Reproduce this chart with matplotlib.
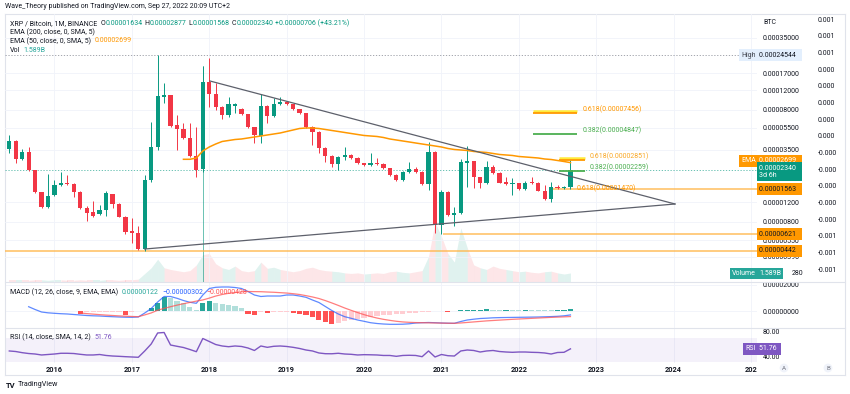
import matplotlib
matplotlib.use("Agg")
import matplotlib.pyplot as plt
import matplotlib.transforms as mtransforms
from matplotlib.lines import Line2D
from matplotlib.ticker import FixedLocator, FuncFormatter, NullLocator

plt.rcParams['font.family'] = ['Roboto', 'DejaVu Sans']

# ---------------- data (prices in satoshi = 1e-8 BTC), monthly from Jun 2015 ----------------
opens = [3550, 4240, 2890, 3380, 2320, 1466, 1091, 1386, 1704, 1786,
         1739, 1484, 1056, 972, 933, 1019, 1416, 1153, 887, 662,
         639, 457, 1889, 3744, 10470, 10830, 5816, 5388, 4451, 3093,
         2353, 14250, 11067, 8522, 7143, 8700, 8080, 7290, 5580, 4666,
         8697, 7083, 8954, 9388, 8954, 8130, 7442, 5580, 5099, 3624,
         3093, 2624, 3048, 3158, 2950, 2662, 2554, 2662, 2640, 2403,
         2093, 1889, 2240, 2353, 2213, 1729, 3338, 749, 1484, 918,
         952, 2694, 2790, 1997, 1764, 2482, 2168, 1801, 1729, 1764,
         1570, 1801, 1764, 1515, 1278, 1646, 1592, 1634]
highs = [4760, 4300, 3590, 3700, 2340, 1480, 2137, 1889, 2240, 2093,
         1760, 1500, 1107, 1226, 1129, 1515, 1430, 1165, 895, 859,
         734, 2081, 6260, 24544, 13960, 10900, 7186, 6060, 6060, 5600,
         19680, 23060, 13874, 8600, 10467, 9100, 8300, 7400, 5650, 11002,
         8800, 10254, 10340, 9500, 9050, 8200, 7500, 5700, 5200, 3700,
         3150, 3100, 3744, 3250, 3000, 2700, 3310, 2950, 2694, 2430,
         2120, 2280, 2750, 2482, 2260, 4149, 3400, 1550, 1500, 1077,
         2890, 3799, 2800, 2010, 2808, 2569, 2240, 1997, 1980, 1786,
         1850, 2022, 1800, 1693, 1801, 1693, 1680, 2877]
lows = [3310, 2660, 2850, 2290, 1436, 1070, 1070, 1360, 1680, 1700,
        1339, 1034, 817, 887, 920, 901, 1056, 880, 622, 520,
        450, 442, 1810, 3500, 9140, 5600, 3500, 4400, 3000, 2022,
        2230, 8522, 7960, 6580, 6900, 7487, 7200, 5500, 4016, 4016,
        6060, 6900, 8800, 8800, 8000, 7300, 5500, 3878, 3270, 2750,
        2470, 2320, 2850, 2900, 2620, 2520, 2520, 2580, 2380, 2060,
        1850, 1860, 2200, 2180, 1700, 1538, 633, 621, 900, 734,
        940, 1646, 1592, 1592, 1740, 2140, 1760, 1720, 1386, 1550,
        1550, 1740, 1500, 1260, 1209, 1570, 1560, 1568]
closes = [4240, 2930, 3380, 2320, 1466, 1091, 1367, 1704, 1786, 1729,
          1484, 1056, 952, 901, 1019, 1436, 1153, 887, 652, 639,
          457, 1889, 3744, 10620, 10830, 5731, 5388, 4451, 3093, 2320,
          14250, 11067, 8522, 7143, 8954, 8954, 7290, 5580, 4763, 8697,
          7083, 9010, 9388, 8954, 8130, 7442, 5580, 5099, 3624, 3093,
          2624, 3048, 3158, 2950, 2662, 2554, 2662, 2609, 2432, 2093,
          1889, 2240, 2353, 2213, 1729, 3338, 749, 1484, 918, 952,
          2750, 2790, 1997, 1764, 2482, 2168, 1786, 1739, 1764, 1570,
          1764, 1764, 1515, 1278, 1646, 1592, 1634, 2340]
volume_b = [0.3, 0.3, 0.3, 0.3, 0.4, 0.4, 0.3, 0.4, 0.4, 0.3,
            0.3, 0.4, 0.3, 0.3, 0.3, 0.4, 0.4, 0.3, 0.4, 0.4,
            0.5, 1.5, 2.5, 4.0, 2.5, 2.2, 2.0, 1.8, 2.0, 3.0,
            4.8, 5.0, 3.2, 2.5, 2.2, 2.8, 2.0, 1.8, 2.0, 3.5,
            2.4, 2.6, 2.2, 2.0, 1.8, 2.0, 2.4, 2.6, 2.2, 2.0,
            1.9, 1.8, 1.6, 1.5, 1.6, 1.4, 1.5, 1.6, 1.5, 1.8,
            1.9, 1.7, 1.6, 1.8, 2.0, 4.5, 10.5, 8.0, 5.0, 3.5,
            9.5, 6.0, 3.0, 2.5, 2.2, 2.8, 2.4, 2.2, 2.0, 1.8,
            1.9, 1.7, 1.6, 1.8, 1.9, 1.6, 1.4, 1.589]
ema50_first = 27
ema50 = [2890, 2890, 2968, 3429, 3722, 3958, 4168, 4254, 4342, 4387,
         4478, 4572, 4667, 4763, 4862, 4963, 5120, 5279, 5444, 5500,
         5500, 5444, 5333, 5225, 5120, 5015, 4912, 4812, 4715, 4667,
         4620, 4525, 4387, 4298, 4211, 4126, 4040, 3958, 3878, 3799,
         3722, 3609, 3536, 3500, 3464, 3394, 3359, 3325, 3257, 3191,
         3158, 3126, 3062, 3031, 3000, 2968, 2908, 2878, 2820, 2762,
         2699]
rsi14 = [48.3, 47.4, 45.5, 44.1, 43.3, 41.7, 42.5, 43.3, 44.5, 44.5,
         44.1, 42.8, 41.7, 41.7, 42.5, 40.9, 40.0, 39.5, 38.9, 38.4,
         37.9, 48.3, 59.8, 77.9, 78.7, 58.1, 56.0, 54.0, 50.7, 47.1,
         68.8, 63.9, 58.9, 56.5, 55.3, 56.5, 55.7, 53.2, 49.1, 56.5,
         54.3, 56.0, 56.5, 55.7, 54.3, 52.4, 49.9, 48.3, 45.0, 43.8,
         43.7, 44.5, 43.3, 42.8, 41.7, 42.2, 42.0, 41.7, 40.9, 40.9,
         39.5, 40.9, 41.2, 40.9, 38.9, 48.3, 38.4, 42.5, 40.5, 40.0,
         48.3, 49.9, 49.1, 46.6, 48.3, 49.1, 47.4, 46.6, 46.1, 46.6,
         46.6, 46.1, 45.8, 45.0, 43.3, 45.8, 46.1, 51.76]
macd_first = 3
macd_line = [330, 115, -77, -140, -177, -208, -230, -270, -307, -346,
             -370, -385, -415, -438, -461, -477, -485, -461, -154, 192,
             692, 1115, 1115, 977, 807, 669, 592, 1230, 1730, 1823,
             1846, 1846, 1807, 1730, 1500, 1230, 1115, 1153, 1153, 1153,
             1230, 1230, 1153, 1053, 846, 654, 346, 38, -230, -438,
             -561, -692, -792, -900, -961, -1000, -1023, -1023, -1015, -984,
             -923, -900, -884, -900, -923, -938, -946, -807, -692, -630,
             -577, -554, -523, -508, -500, -492, -485, -477, -469, -461,
             -446, -430, -408, -370, -302]
signal_first = 11
signal_line = [-150, -200, -240, -280, -315, -345, -375, -400, -420, -438,
               -300, -150, 60, 200, 330, 450, 560, 660, 760, 850,
               990, 1150, 1270, 1360, 1420, 1480, 1500, 1490, 1484, 1460,
               1440, 1410, 1380, 1330, 1270, 1180, 1080, 960, 800, 620,
               430, 230, 50, -120, -280, -420, -540, -640, -720, -790,
               -840, -870, -890, -900, -910, -920, -930, -940, -945, -920,
               -880, -840, -800, -760, -730, -700, -670, -640, -615, -590,
               -565, -540, -515, -490, -470, -450, -428]
hist_first = 11
macd_hist = [-250, -110, -100, -95, -90, -80, -70, -300, -60, -20,
             30, 210, 640, 1100, 977, 790, 592, 330, 77, 640,
             790, 592, 538, 460, 384, 200, -230, -307, -100, -180,
             -80, -60, -50, -150, -230, -300, -450, -680, -840, -1000,
             -920, -800, -690, -610, -540, -470, -400, -340, -290, -250,
             -200, -160, -120, -80, -40, -20, -30, -40, -20, 60,
             80, 90, 100, 120, 110, 100, 110, 100, 90, 100,
             90, 80, 70, 60, 70, 90, 122]

year_tick_idx = [7, 19, 31, 43, 55, 67, 79, 91, 103, 115]
year_labels = ['2016', '2017', '2018', '2019', '2020', '2021', '2022', '2023', '2024', '202']
price_ticks = [35000, 17000, 12000, 8000, 5500, 3500, 1200, 800, 550, 390]
overlay_ticks = [0.00075, 0.00065, 0.00055, 0.00045, 0.00035, 0.00025, 0.00015, 0.00005,
                 -0.00005, -0.00015, -0.00025, -0.00035, -0.00045, -0.00055, -0.00065, -0.00075]
macd_ticks = [2000, 0]
rsi_ticks = [80, 40]

upper_trend = [(31.1, 14455), (103.2, 1153)]
lower_trend = [(21.0, 457), (103.2, 1153)]
vline_idx = 30
vline_top = 19680
high_price = 24544
last_price = 2340
ema_last = 2699
hlines_orange = [(442, -0.7), (621, 67.2), (1563, 84.3)]
fib_lines = [(7800, 81.2, 88.0, '#ffeb3b', 1.8), (7456, 81.2, 88.0, '#ff9800', 1.3),
             (4847, 81.2, 88.0, '#4caf50', 1.3),
             (2950, 85.2, 89.3, '#ffeb3b', 1.8), (2851, 85.2, 89.3, '#ff9800', 1.3),
             (2259, 85.2, 89.3, '#4caf50', 1.3)]
fib_labels = [(7456, 88.9, '0.618(0.00007456)', '#ff9800'),
              (4847, 88.9, '0.382(0.00004847)', '#4caf50'),
              (2851, 89.9, '0.618(0.00002851)', '#f9a825'),
              (2259, 89.9, '0.382(0.00002259)', '#4caf50'),
              (1470, 88.0, '0.618(0.00001470)', '#ff9800')]

# ---------------- styling ----------------
UP, DN = '#089981', '#f23645'
DARK = '#131722'
GRID = '#f0f3fa'
BORDER = '#e0e3eb'
W, H = 850, 394
FS = 5.0


def fx(px):
    return px / W


def fy(py):
    return 1 - py / H


fig = plt.figure(figsize=(8.5, 3.94), dpi=100)
fig.patch.set_facecolor('white')

L, R = 5, 757
ax = fig.add_axes([fx(L), fy(282), fx(R - L), (282 - 14) / H])
ax_m = fig.add_axes([fx(L), fy(328), fx(R - L), (328 - 282) / H], sharex=ax)
ax_r = fig.add_axes([fx(L), fy(363), fx(R - L), (363 - 328) / H], sharex=ax)
ax_v = ax.twinx()
ax_o = ax.twinx()
ax_v.set_zorder(1)
ax_o.set_zorder(1.5)
ax.set_zorder(2)
ax.patch.set_visible(False)

n = len(opens)
xs = list(range(n))
cols = [UP if closes[i] >= opens[i] else DN for i in range(n)]

# ---------- main price pane ----------
ax.set_yscale('log')
ax.set_ylim(232, 57280)
ax.set_xlim(-0.667, 115.92)
bottoms = [min(opens[i], closes[i]) for i in range(n)]
heights = [max(abs(closes[i] - opens[i]), bottoms[i] * 0.008) for i in range(n)]
ax.vlines(xs, lows, highs, colors=cols, lw=0.7, zorder=3)
ax.bar(xs, heights, bottom=bottoms, width=0.66, color=cols, linewidth=0, zorder=4)
ax.plot(range(ema50_first, ema50_first + len(ema50)), ema50, color='#ff9800', lw=1.1, zorder=5)

ax.plot([p[0] for p in upper_trend], [p[1] for p in upper_trend], color='#5d606b', lw=0.9, zorder=6)
ax.plot([p[0] for p in lower_trend], [p[1] for p in lower_trend], color='#5d606b', lw=0.9, zorder=6)
ax.vlines([vline_idx], 232, vline_top, colors=UP, lw=0.6, alpha=0.7, zorder=2)

ax.axhline(high_price, color='#9598a1', lw=0.6, ls=(0, (1.5, 2)), zorder=2)
ax.axhline(last_price, color=UP, lw=0.6, ls=(0, (1.5, 2)), alpha=0.7, zorder=2)
for price, x0 in hlines_orange:
    ax.hlines(price, x0, 115.92, color='#ffb74d', lw=1.1, alpha=0.9, zorder=2)
for price, x0, x1, c, lw in fib_lines:
    ax.hlines(price, x0, x1, color=c, lw=lw, zorder=5)
for price, x0, txt, c in fib_labels:
    ax.text(x0, price, txt, color=c, fontsize=FS, ha='left', va='bottom', zorder=7)

ax.yaxis.tick_right()
ax.yaxis.set_major_locator(FixedLocator(price_ticks))
ax.yaxis.set_minor_locator(NullLocator())
ax.yaxis.set_major_formatter(FuncFormatter(lambda v, p: f"{v / 1e8:.8f}"))
ax.tick_params(axis='y', length=0, pad=4.3, labelsize=FS, labelcolor=DARK)
ax.tick_params(axis='x', length=0, labelbottom=False)
ax.grid(True, axis='both', color=GRID, lw=0.6, zorder=0)
ax.set_axisbelow(True)
for s in ax.spines.values():
    s.set_visible(False)

# volume overlay
ax_v.set_ylim(0, 47)
for i in range(1, n):
    ax_v.fill_between([i - 1, i], [0, 0], [volume_b[i - 1], volume_b[i]],
                      color=cols[i], alpha=0.12, lw=0)
ax_v.axis('off')

# secondary overlay scale labels
ax_o.set_ylim(-0.000828, 0.00078)
ax_o.yaxis.set_major_locator(FixedLocator(overlay_ticks))
ax_o.yaxis.set_major_formatter(FuncFormatter(lambda v, p: f"{v:.3f}"))
ax_o.tick_params(axis='y', length=0, pad=43.5, labelsize=FS, labelcolor=DARK)
for s in ax_o.spines.values():
    s.set_visible(False)

# ---------- MACD pane ----------
ax_m.set_ylim(-1307, 2230)
hx = list(range(hist_first, hist_first + len(macd_hist)))
hcols = []
prev = 0
for h in macd_hist:
    if h >= 0:
        hcols.append('#26a69a' if h > prev else '#b2dfdb')
    else:
        hcols.append('#ff5252' if h < prev else '#ffcdd2')
    prev = h
ax_m.bar(hx, macd_hist, width=0.8, color=hcols, linewidth=0, zorder=2)
ax_m.plot(range(macd_first, macd_first + len(macd_line)), macd_line, color='#2962ff', lw=0.9, alpha=0.75, zorder=3)
ax_m.plot(range(signal_first, signal_first + len(signal_line)), signal_line, color='#ff5252', lw=0.9, alpha=0.75, zorder=3)
ax_m.yaxis.tick_right()
ax_m.yaxis.set_major_locator(FixedLocator(macd_ticks))
ax_m.yaxis.set_major_formatter(FuncFormatter(lambda v, p: f"{v / 1e8:.8f}"))
ax_m.tick_params(axis='y', length=0, pad=4.3, labelsize=FS, labelcolor=DARK)
ax_m.tick_params(axis='x', length=0, labelbottom=False)
ax_m.grid(True, axis='both', color=GRID, lw=0.6, zorder=0)
ax_m.set_axisbelow(True)
for s in ax_m.spines.values():
    s.set_visible(False)

# ---------- RSI pane ----------
ax_r.set_ylim(28.5, 86.1)
ax_r.axhspan(30, 70, color='#7e57c2', alpha=0.08, lw=0, zorder=1)
ax_r.plot(xs, rsi14, color='#7e57c2', lw=1.0, zorder=3)
ax_r.yaxis.tick_right()
ax_r.yaxis.set_major_locator(FixedLocator(rsi_ticks))
ax_r.yaxis.set_major_formatter(FuncFormatter(lambda v, p: f"{v:.2f}"))
ax_r.tick_params(axis='y', length=0, pad=4.3, labelsize=FS, labelcolor=DARK)
ax_r.set_xticks(year_tick_idx)
ax_r.set_xticklabels(year_labels)
ax_r.tick_params(axis='x', length=0, pad=2.5, labelsize=5.3, labelcolor=DARK)
for lab in ax_r.get_xticklabels():
    lab.set_fontweight('bold')
ax_r.grid(True, axis='x', color=GRID, lw=0.6, zorder=0)
ax_r.set_axisbelow(True)
for s in ax_r.spines.values():
    s.set_visible(False)
ax_r.set_xlim(-0.667, 115.92)

# ---------- borders ----------
for (x0, y0, x1, y1) in [(5, 14, 845, 14), (5, 282, 845, 282), (5, 328, 845, 328),
                         (5, 375, 845, 375), (5, 14, 5, 375), (845, 14, 845, 375)]:
    fig.add_artist(Line2D([fx(x0), fx(x1)], [fy(y0), fy(y1)], color=BORDER, lw=0.8))

# ---------- badges ----------
tr = mtransforms.blended_transform_factory(fig.transFigure, ax.transData)
trr = mtransforms.blended_transform_factory(fig.transFigure, ax_r.transData)


def badge(x_px, yv, txt, fc, tc, ha='left', transform=tr, target=ax):
    target.text(fx(x_px), yv, txt, fontsize=FS, color=tc, ha=ha, va='center', transform=transform,
                bbox=dict(boxstyle='square,pad=0.35', fc=fc, ec='none'), zorder=20, clip_on=False,
                linespacing=1.1)


badge(756, high_price, 'High', '#e3effd', '#434651', ha='right')
badge(759, high_price, '0.00024544  ', '#e3effd', DARK)
badge(756, ema_last * 1.04, 'EMA', '#ff9800', 'white', ha='right')
badge(759, ema_last * 1.04, '0.00002699  ', '#ff9800', 'white')
badge(759, last_price * 0.955, '0.00002340  \n3d 6h', UP, 'white')
badge(759, 1563, '0.00001563  ', '#ff9800', DARK)
badge(759, 621, '0.00000621  ', '#ff9800', DARK)
badge(759, 442, '0.00000442  ', '#ff9800', DARK)
badge(756, 276, 'Volume', '#26a69a', 'white', ha='right')
badge(759, 276, '1.589B', '#26a69a', 'white')
ax.text(fx(792), 276, '280', fontsize=FS, color=DARK, ha='left', va='center', transform=tr,
        clip_on=False, zorder=20)
badge(756, 51.76, 'RSI', '#7e57c2', 'white', ha='right', transform=trr, target=ax_r)
badge(759, 51.76, '51.76 ', '#7e57c2', 'white', transform=trr, target=ax_r)

fig.text(fx(763), fy(22), 'BTC', fontsize=FS, color=DARK, va='center')

# ---------- legend / header text ----------
renderer = fig.canvas.get_renderer()


def seq_text(x_px, y_px, pieces, size=FS):
    x = x_px
    for txt, c, gap in pieces:
        t = fig.text(fx(x), fy(y_px), txt, color=c, fontsize=size, va='center', ha='left')
        x += t.get_window_extent(renderer).width + gap


seq_text(5, 7, [('Wave_Theory published on TradingView.com, Sep 27, 2022 20:09 UTC+2', DARK, 0)])
seq_text(10, 23.3, [('XRP / Bitcoin, 1M, BINANCE', DARK, 3.0), ('O', DARK, 0.3), ('0.00001634', UP, 2.0),
                    ('H', DARK, 0.3), ('0.00002877', UP, 2.0), ('L', DARK, 0.3), ('0.00001568', UP, 2.0),
                    ('C', DARK, 0.3), ('0.00002340', UP, 2.0), ('+0.00000706 (+43.21%)', UP, 0)])
seq_text(10, 32.3, [('EMA (200, close, 0, SMA, 5)', DARK, 0)])
seq_text(10, 41, [('EMA (50, close, 0, SMA, 5)', DARK, 3.5), ('0.00002699', '#ff9800', 0)])
seq_text(10, 50, [('Vol', DARK, 3.5), ('1.589B', '#26a69a', 0)])
seq_text(10, 292, [('MACD (12, 26, close, 9, EMA, EMA)', DARK, 3.5), ('0.00000122', '#26a69a', 3.5),
                   ('\u22120.00000302', '#2962ff', 3.5), ('\u22120.00000428', '#ff5252', 0)])
seq_text(10, 337.5, [('RSI (14, close, SMA, 14, 2)', DARK, 3.5), ('51.76', '#7e57c2', 0)])

# bottom logo and scale buttons
fig.text(fx(6), fy(385), 'TV', fontsize=5.5, fontweight='bold', color=DARK, va='center')
fig.text(fx(18), fy(385), 'TradingView', fontsize=5.2, color=DARK, va='center')
for px, lab in [(784, 'A'), (828, 'B')]:
    fig.text(fx(px), fy(368), lab, fontsize=4.5, color='#787b86', ha='center', va='center',
             bbox=dict(boxstyle='circle,pad=0.3', fc='#f0f3fa', ec='none'))

fig.savefig('out.png', dpi=100)
